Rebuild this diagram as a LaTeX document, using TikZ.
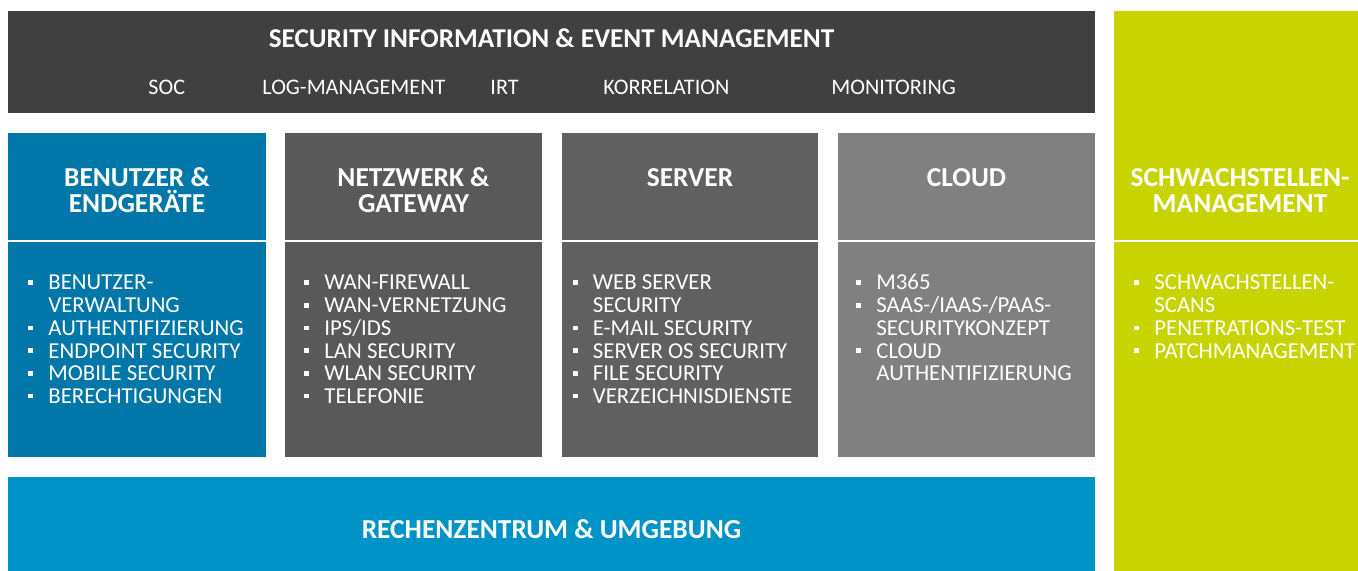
\documentclass[tikz,border=0pt]{standalone}
\usepackage{fontspec}
\setmainfont{Carlito}

\definecolor{siemgrau}{HTML}{404040}
\definecolor{blau}{HTML}{0077A8}
\definecolor{netzgrau}{HTML}{595959}
\definecolor{servergrau}{HTML}{606060}
\definecolor{cloudgrau}{HTML}{808080}
\definecolor{rzblau}{HTML}{0093C8}
\definecolor{gruen}{HTML}{C8D400}

\newcommand{\pkt}{\makebox[10pt][l]{\rule[2.5pt]{2.4pt}{2.4pt}}}
\newcommand{\einzug}{\hspace*{10pt}}
\newcommand{\liste}[1]{\parbox[t]{130pt}{\raggedright #1}}
\newcommand{\kopf}[1]{\parbox[t]{125pt}{\centering #1}}

\begin{document}
\begin{tikzpicture}[x=0.5pt, y=-0.5pt,
	titel/.style={text=white, inner sep=0pt, anchor=base, font=\fontsize{13.6}{13}\selectfont\bfseries},
	kopftext/.style={text=white, inner sep=0pt, anchor=base, font=\fontsize{13.7}{13}\selectfont\bfseries},
	punkte/.style={text=white, inner sep=0pt, anchor=base west, font=\fontsize{11.4}{11.35}\selectfont},
	siemtext/.style={punkte, font=\fontsize{11.1}{11}\selectfont},
	trenner/.style={white, line width=1pt}]
	\useasboundingbox (0,0) rectangle (1358,571);
	
	\fill[siemgrau] (8,11) rectangle (1095,113);		% SIEM-Balken
	\fill[blau] (8,133) rectangle (266,457);			% Benutzer
	\fill[netzgrau] (285,133) rectangle (542,457);		% Netzwerk
	\fill[servergrau] (562,133) rectangle (818,457);	% Server
	\fill[cloudgrau] (838,133) rectangle (1095,457);	% Cloud
	\fill[rzblau] (8,477) rectangle (1095,571);		% Rechenzentrum
	\fill[gruen] (1114,11) rectangle (1358,571);		% Schwachstellen
	
	\draw[trenner] (8,241) -- (266,241);				% Trennlinien
	\draw[trenner] (285,241) -- (542,241);
	\draw[trenner] (562,241) -- (818,241);
	\draw[trenner] (838,241) -- (1095,241);
	\draw[trenner] (1114,241) -- (1358,241);
	
	\node[titel] (siem) at (551.5,48) {SECURITY INFORMATION \& EVENT MANAGEMENT};
	\node[siemtext] (soc) at (148,95) {SOC};
	\node[siemtext] (logm) at (262,95) {LOG-MANAGEMENT};
	\node[siemtext] (irt) at (490,95) {IRT};
	\node[siemtext] (korr) at (603,95) {KORRELATION};
	\node[siemtext] (moni) at (831,95) {MONITORING};
	
	\node[kopftext] (kbenutzer) at (137,187) {\kopf{BENUTZER \&\\ ENDGERÄTE}};
	\node[kopftext] (knetz) at (413.5,187) {\kopf{NETZWERK \&\\ GATEWAY}};
	\node[kopftext] (kserver) at (690,187) {\kopf{SERVER}};
	\node[kopftext] (kcloud) at (966.5,187) {\kopf{CLOUD}};
	\node[kopftext] (kschwach) at (1240,187) {\kopf{SCHWACHSTELLEN-\\ MANAGEMENT}};
	
	\node[punkte] (lbenutzer) at (28,290) {\liste{\pkt BENUTZER-\\ \einzug VERWALTUNG\\ \pkt AUTHENTIFIZIERUNG\\ \pkt ENDPOINT SECURITY\\ \pkt MOBILE SECURITY\\ \pkt BERECHTIGUNGEN}};
	\node[punkte] (lnetz) at (304,290) {\liste{\pkt WAN-FIREWALL\\ \pkt WAN-VERNETZUNG\\ \pkt IPS/IDS\\ \pkt LAN SECURITY\\ \pkt WLAN SECURITY\\ \pkt TELEFONIE}};
	\node[punkte] (lserver) at (572.5,290) {\liste{\pkt WEB SERVER\\ \einzug SECURITY\\ \pkt E-MAIL SECURITY\\ \pkt SERVER OS SECURITY\\ \pkt FILE SECURITY\\ \pkt VERZEICHNISDIENSTE}};
	\node[punkte] (lcloud) at (856,290) {\liste{\pkt M365\\ \pkt SAAS-/IAAS-/PAAS-\\ \einzug SECURITYKONZEPT\\ \pkt CLOUD\\ \einzug AUTHENTIFIZIERUNG}};
	\node[punkte] (lschwach) at (1134,290) {\liste{\pkt SCHWACHSTELLEN-\\ \einzug SCANS\\ \pkt PENETRATIONS-TEST\\ \pkt PATCHMANAGEMENT}};
	
	\node[kopftext] (rz) at (551.5,538) {RECHENZENTRUM \& UMGEBUNG};
\end{tikzpicture}
\end{document}
